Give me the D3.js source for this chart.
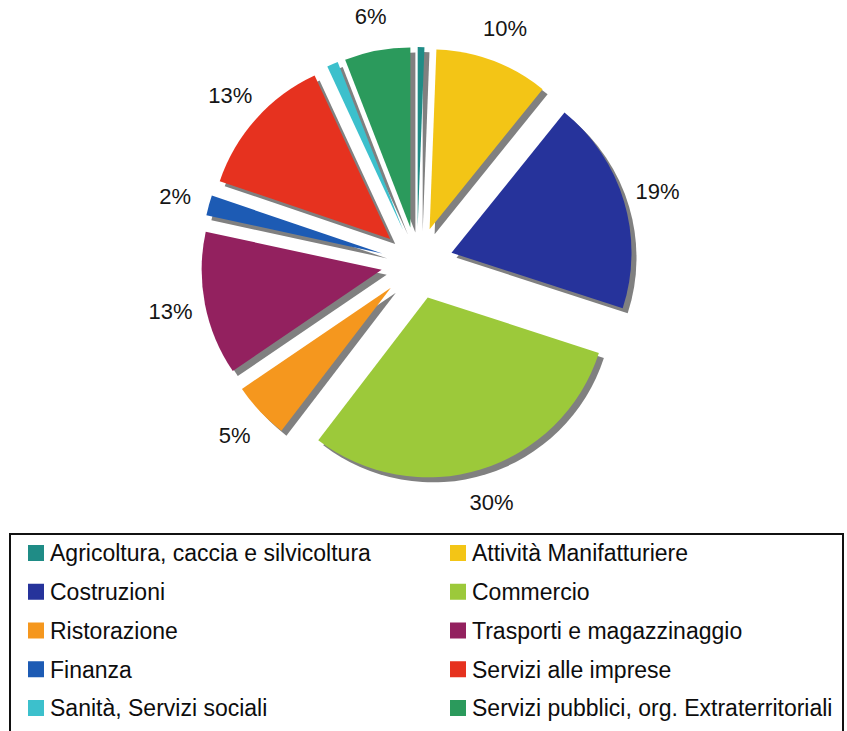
<!DOCTYPE html>
<html>
<head>
<meta charset="utf-8">
<script src="https://cdn.jsdelivr.net/npm/d3@7"></script>
<style>
  html, body { margin: 0; padding: 0; background: #ffffff; }
  svg { display: block; }
</style>
</head>
<body>
<svg id="chart" width="847" height="731"></svg>
<script>
const categories = [
  "Agricoltura, caccia e silvicoltura",
  "Attività Manifatturiere",
  "Costruzioni",
  "Commercio",
  "Ristorazione",
  "Trasporti e magazzinaggio",
  "Finanza",
  "Servizi alle imprese",
  "Sanità, Servizi sociali",
  "Servizi pubblici, org. Extraterritoriali"
];
const values = [0.6, 10.2, 19.2, 30.4, 5.1, 12.9, 1.8, 12.9, 1.0, 5.9];
const labels = ["", "10%", "19%", "30%", "5%", "13%", "2%", "13%", "", "6%"];
const colors = ["#1f8c86", "#f3c516", "#26339b", "#9cc93a", "#f5971e",
                "#93215f", "#1d5bb4", "#e6321f", "#3cc0cc", "#2b9a5c"];
const legendOrder = [0, 1, 2, 3, 4, 5, 6, 7, 8, 9];

const svg = d3.select("#chart");
const cx = 417, cy = 263, R = 180, explode = 36, labelR = 251;
const shadowDx = 5, shadowDy = 5;

const pie = d3.pie().sort(null).value(d => d).startAngle(0).endAngle(2 * Math.PI);
const arcs = pie(values);
const arc = d3.arc().innerRadius(0).outerRadius(R);

function offset(a) {
  const m = (a.startAngle + a.endAngle) / 2;
  return [Math.sin(m) * explode, -Math.cos(m) * explode];
}

const g = svg.append("g").attr("transform", `translate(${cx},${cy})`);

g.selectAll("path.shadow").data(arcs).enter().append("path")
  .attr("class", "shadow")
  .attr("d", arc)
  .attr("fill", "#808080")
  .attr("transform", d => { const o = offset(d); return `translate(${o[0] + shadowDx},${o[1] + shadowDy})`; });

g.selectAll("path.slice").data(arcs).enter().append("path")
  .attr("class", "slice")
  .attr("d", arc)
  .attr("fill", (d, i) => colors[i])
  .attr("transform", d => { const o = offset(d); return `translate(${o[0]},${o[1]})`; });

const labelArc = d3.arc().innerRadius(labelR).outerRadius(labelR);
g.selectAll("text.lbl").data(arcs).enter().append("text")
  .attr("class", "lbl")
  .attr("x", d => labelArc.centroid(d)[0])
  .attr("y", d => labelArc.centroid(d)[1])
  .attr("dy", "0.35em")
  .attr("text-anchor", "middle")
  .attr("font-family", "'Liberation Sans', Arial, sans-serif")
  .attr("font-size", 22)
  .attr("fill", "#151515")
  .text((d, i) => labels[i]);

const lx = 10, ly = 534;
svg.append("rect")
  .attr("x", lx).attr("y", ly)
  .attr("width", 833).attr("height", 220)
  .attr("fill", "none").attr("stroke", "#111").attr("stroke-width", 2);

const colX = d3.scaleOrdinal().domain([0, 1]).range([28, 450]);
const rowY = d3.scaleLinear().domain([0, 4]).range([553, 708]);

const items = svg.selectAll("g.leg").data(legendOrder).enter().append("g")
  .attr("class", "leg")
  .attr("transform", (d, k) => `translate(${colX(k % 2)},${rowY(Math.floor(k / 2))})`);
items.append("rect")
  .attr("x", 0).attr("y", -8).attr("width", 16).attr("height", 16)
  .attr("fill", d => colors[d]);
items.append("text")
  .attr("x", 22).attr("y", 0).attr("dy", "0.36em")
  .attr("font-family", "'Liberation Sans', Arial, sans-serif")
  .attr("font-size", 23)
  .attr("fill", "#0d0d0d")
  .text(d => categories[d]);
</script>
</body>
</html>
